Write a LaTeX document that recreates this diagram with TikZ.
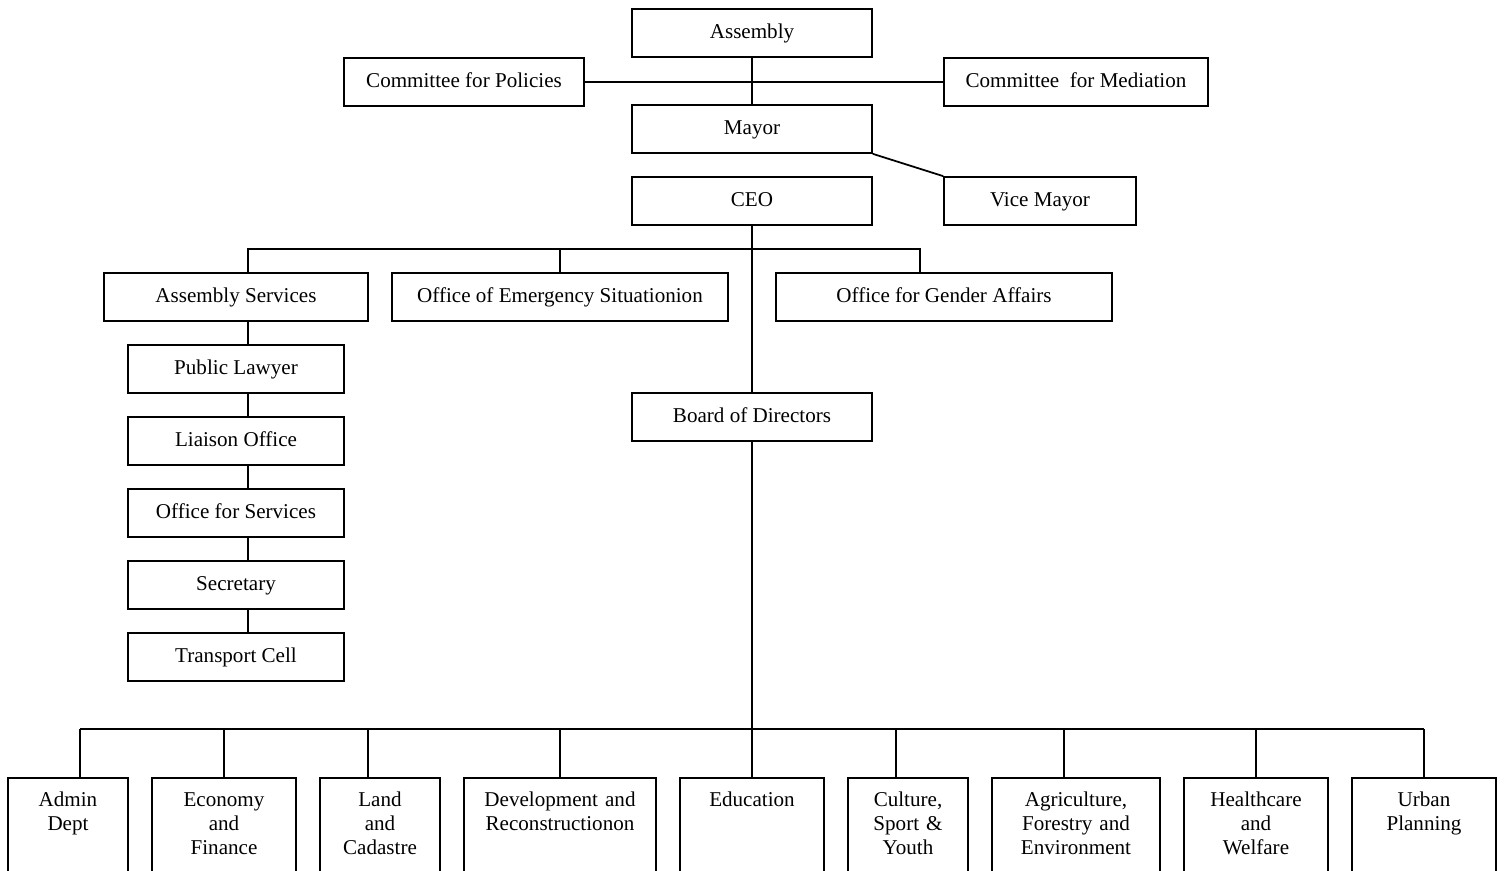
\documentclass[tikz,border=0pt]{standalone}
\usepackage{fontspec}
\setmainfont{Liberation Serif}
\tikzset{
	orgbox/.style={draw, line width=1pt, inner sep=0pt, minimum height=0.96cm, text height=8.5pt, text depth=2.5pt, font=\fontsize{12}{13.6}\selectfont},
	deptbox/.style={orgbox, anchor=north, align=center, text height=0.58cm, text depth=2.4cm},
	link/.style={line width=1pt}
}

\begin{document}
\begin{tikzpicture}[x=0.02cm, y=-0.02cm]
			%%%%% START %%%%%
			\useasboundingbox (0,0) rectangle (1504,871);
			\clip (0,0) rectangle (1504,871);
			
			% top of the chart
			\node[orgbox, minimum width=4.8cm] (assembly) at (752,33) {Assembly};
			\node[orgbox, minimum width=4.8cm] (policies) at (464,82) {Committee for Policies};
			\node[orgbox, minimum width=5.28cm] (mediation) at (1076,82) {Committee\ \ for Mediation};
			\node[orgbox, minimum width=4.8cm] (mayor) at (752,129) {Mayor};
			\node[orgbox, minimum width=4.8cm] (ceo) at (752,201) {CEO};
			\node[orgbox, minimum width=3.84cm] (vicemayor) at (1040,201) {Vice Mayor};
			
			\draw[link] (assembly) -- (mayor);
			\draw[link] (policies) -- (mediation);
			\draw[link] (mayor.south east) -- (vicemayor.north west);
			
			% offices under the CEO
			\node[orgbox, minimum width=5.28cm] (asmsvc) at (236,297) {Assembly Services};
			\node[orgbox, minimum width=6.72cm] (emergency) at (560,297) {Office of Emergency Situationion};
			\node[orgbox, minimum width=6.72cm] (gender) at (944,297) {Office for Gender Affairs};
			\node[orgbox, minimum width=4.8cm] (board) at (752,417) {Board of Directors};
			
			\coordinate (ceobus) at (752,249);
			\coordinate (asmtap) at (248,273);
			\coordinate (gendertap) at (920,273);
			\draw[link] (asmtap) |- (ceobus) -| (gendertap);
			\draw[link] (emergency.north) -- (emergency.north |- ceobus);
			\draw[link] (ceo) -- (board);
			
			% assembly services column
			\node[orgbox, minimum width=4.32cm] (lawyer) at (236,369) {Public Lawyer};
			\node[orgbox, minimum width=4.32cm] (liaison) at (236,441) {Liaison Office};
			\node[orgbox, minimum width=4.32cm] (services) at (236,513) {Office for Services};
			\node[orgbox, minimum width=4.32cm] (secretary) at (236,585) {Secretary};
			\node[orgbox, minimum width=4.32cm] (transport) at (236,657) {Transport Cell};
			
			\foreach \a/\b in {asmsvc/lawyer, lawyer/liaison, liaison/services, services/secretary, secretary/transport}
				\draw[link] (asmtap |- \a.south) -- (asmtap |- \b.north);
			
			% departments
			\node[deptbox, text width=2.4cm] (admin) at (68,777) {Admin\\Dept};
			\node[deptbox, text width=2.88cm] (economy) at (224,777) {Economy\\and\\Finance};
			\node[deptbox, text width=2.4cm] (land) at (380,777) {Land\\and\\Cadastre};
			\node[deptbox, text width=3.84cm] (develop) at (560,777) {Development and\\Reconstructionon};
			\node[deptbox, text width=2.88cm] (education) at (752,777) {Education};
			\node[deptbox, text width=2.4cm] (culture) at (908,777) {Culture,\\Sport \&\\Youth};
			\node[deptbox, text width=3.36cm] (agri) at (1076,777) {Agriculture,\\Forestry and\\Environment};
			\node[deptbox, text width=2.88cm] (health) at (1256,777) {Healthcare\\and\\Welfare};
			\node[deptbox, text width=2.88cm] (urban) at (1424,777) {Urban\\Planning};
			
			\foreach \n/\t in {admin/80, economy/224, land/368, develop/560, education/752, culture/896, agri/1064, health/1256, urban/1424}{
				\coordinate (\n tap) at (\t,729);
				\draw[link] (\n tap) -- (\n tap |- \n.north);
			}
			\draw[link] (admintap) -- (urbantap);
			\draw[link] (board) -- (board.south |- admintap);
			
			%%%%% END %%%%%
\end{tikzpicture}
\end{document}
